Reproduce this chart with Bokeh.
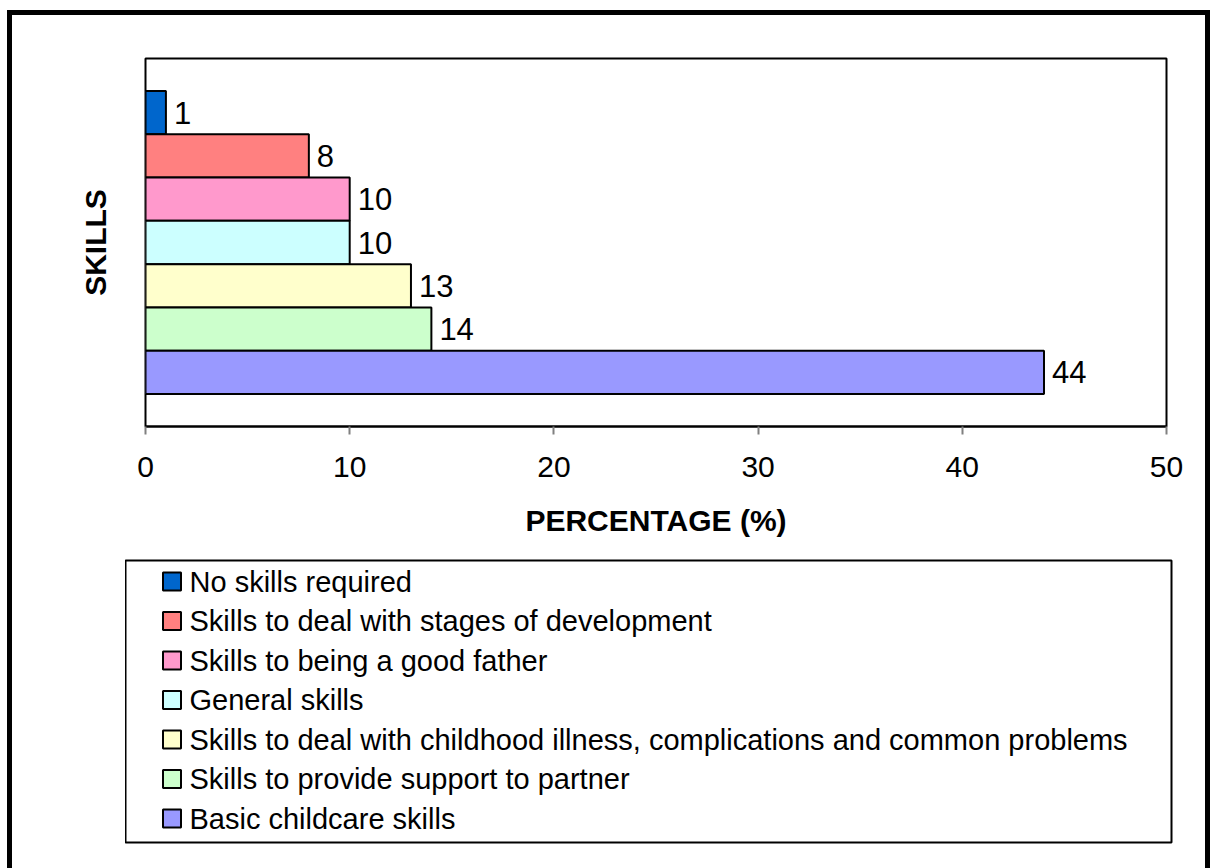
from bokeh.plotting import figure
from bokeh.models import Range1d, FixedTicker, ColumnDataSource, Spacer
from bokeh.layouts import column, row
from bokeh.core.properties import value
from bokeh.embed import file_html
from bokeh.resources import INLINE

# ---- data (top to bottom as drawn) ----
categories = [
    "No skills required",
    "Skills to deal with stages of development",
    "Skills to being a good father",
    "General skills",
    "Skills to deal with childhood illness, complications and common problems",
    "Skills to provide support to partner",
    "Basic childcare skills",
]
percentages = [1, 8, 10, 10, 13, 14, 44]
colors = ["#0066CC", "#FF8080", "#FF99CC", "#CCFFFF", "#FFFFCC", "#CCFFCC", "#9999FF"]
x_ticks = [0, 10, 20, 30, 40, 50]

FONT = "Liberation Sans"
n = len(categories)
ypos = [n - i - 0.5 for i in range(n)]

src = ColumnDataSource(dict(y=ypos, v=percentages, c=colors, name=categories,
                            lbl=[str(v) for v in percentages]))

# ---------------- chart ----------------
p = figure(width=1193, height=525, output_backend="svg", toolbar_location=None,
           x_range=Range1d(0, 50), y_range=Range1d(-0.75, n + 0.75),
           min_border_left=133, min_border_top=43, min_border_right=39,
           min_border_bottom=114)
p.background_fill_color = "white"
p.border_fill_color = "white"
p.outline_line_color = "black"
p.outline_line_width = 2
p.xgrid.visible = False
p.ygrid.visible = False

p.hbar(y="y", left=0, right="v", height=1, fill_color="c", line_color="black",
       line_width=2, source=src)

p.text(x="v", y="y", text="lbl", source=src, x_offset=8, text_baseline="middle",
       text_align="left", text_font=value(FONT), text_font_size="31px", text_color="black")

xa = p.xaxis[0]
xa.ticker = FixedTicker(ticks=x_ticks)
xa.minor_tick_line_color = None
xa.major_tick_in = 0
xa.major_tick_out = 8
xa.major_tick_line_color = "#808080"
xa.major_tick_line_width = 2
xa.axis_line_color = "black"
xa.axis_line_width = 2
xa.major_label_text_font = FONT
xa.major_label_text_font_size = "30px"
xa.major_label_text_color = "black"
xa.major_label_standoff = 22
xa.axis_label = "PERCENTAGE (%)"
xa.axis_label_text_font = FONT
xa.axis_label_text_font_size = "30px"
xa.axis_label_text_font_style = "bold"
xa.axis_label_text_color = "black"
xa.axis_label_standoff = 24

ya = p.yaxis[0]
ya.ticker = FixedTicker(ticks=[])
ya.axis_line_color = None
ya.major_tick_line_color = None
ya.minor_tick_line_color = None
ya.major_label_text_font_size = "0px"
ya.axis_label = "SKILLS"
ya.axis_label_text_font = FONT
ya.axis_label_text_font_size = "30px"
ya.axis_label_text_font_style = "bold"
ya.axis_label_text_color = "black"
ya.axis_label_standoff = 34

# ---------------- legend panel ----------------
leg_y = [n - i - 0.5 for i in range(n)]
leg_src = ColumnDataSource(dict(y=leg_y, c=colors, name=categories))

p2 = figure(width=1080, height=328, output_backend="svg", toolbar_location=None,
            x_range=Range1d(0, 1046), y_range=Range1d(-0.107, n + 0.032),
            x_axis_location=None, y_axis_location=None,
            min_border_left=0, min_border_top=20, min_border_right=34,
            min_border_bottom=26)
p2.background_fill_color = "white"
p2.border_fill_color = "white"
p2.outline_line_color = "black"
p2.outline_line_width = 2
p2.xgrid.visible = False
p2.ygrid.visible = False

p2.scatter(x=46.5, y="y", marker="square", size=18, fill_color="c",
           line_color="black", line_width=2, source=leg_src)
p2.text(x=64, y="y", text="name", source=leg_src, text_baseline="middle",
        text_align="left", text_font=value(FONT), text_font_size="29px",
        text_color="black")

# ---------------- outer border ----------------
BLK = {"background-color": "black"}
top_bar = Spacer(width=1203, height=5, styles=BLK)
left_bar = Spacer(width=5, height=853, styles=BLK)
right_bar = Spacer(width=5, height=853, styles=BLK)

legend_row = row(Spacer(width=113, height=328), p2)

layout = column(
    Spacer(width=1210, height=10),
    row(Spacer(width=7, height=5), top_bar),
    row(Spacer(width=7, height=853), left_bar, column(p, legend_row), right_bar),
)

open("out.html", "w").write(file_html(layout, INLINE))
